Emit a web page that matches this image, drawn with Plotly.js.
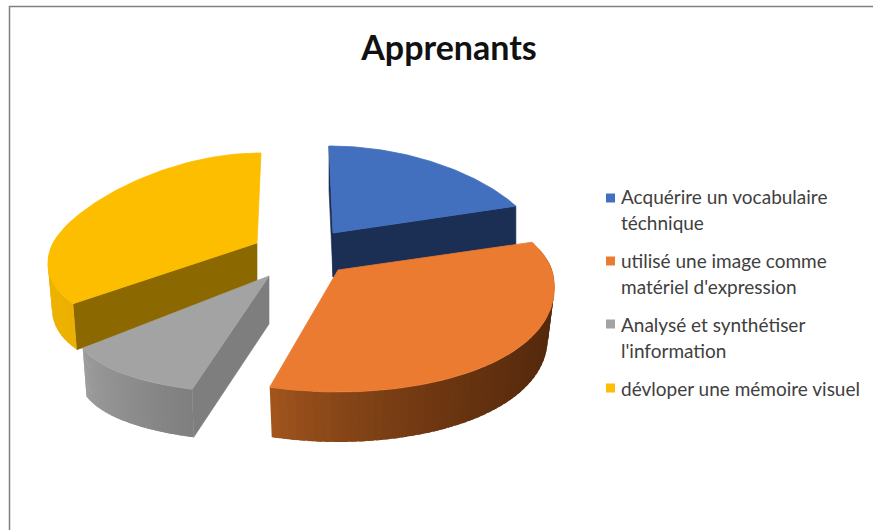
<!DOCTYPE html>
<html><head><meta charset="utf-8">
<script src="https://cdn.plot.ly/plotly-3.0.1.min.js"></script>
<style>html,body{margin:0;padding:0;background:#fff}#c{width:873px;height:530px}</style>
</head><body><div id="c"></div>
<script>
// ---- data ----
const categories = ["Acquérire un vocabulaire technique","utilisé une image comme matériel d'expression","Analysé et synthétiser l'information","dévloper une mémoire visuel"];
const values = [20, 34.5, 10, 35.5];
const legendLines = [["Acquérire un vocabulaire","téchnique"],["utilisé une image comme","matériel d'expression"],["Analysé et synthétiser","l'information"],["dévloper une mémoire visuel"]];
const chartTitle = "Apprenants";

// ---- styles: the exploded 3-D view of each slice ----
const view = [
 {ax:333,ay:233,rx:203,up:87,down:87,k:.15,lean:-4,h:44,bs:1,faces:[0,1],top:"#4270BE",inner:"#1B2E54",oL:"#1B2E54",oR:"#1B2E54"},
 {ax:338,ay:270,rx:214,up:90,down:122,k:.15,lean:0,h:50,bs:.97,faces:[],top:"#EB7B30",inner:"#A5571F",oL:"#A8591F",oR:"#55290C"},
 {ax:269,ay:276,rx:166,up:90,down:118,k:.686,lean:0,h:48,bs:.98,faces:[0],top:"#A3A3A3",inner:"#7E7E7E",oL:"#9E9E9E",oR:"#7F7F7F"},
 {ax:257,ay:243,rx:204,up:90,down:99,k:.23,lean:4,h:46,bs:.98,faces:[0],top:"#FDBE00",inner:"#8C6900",oL:"#EEB200",oR:"#E6AC00"}
];
const drawOrder = [3,0,2,1];
const legendY = [[196,222],[260,286],[324,350],[388]];
const legendBoxY = [198,261,324,388];

const FONT = "Lato, Carlito, sans-serif";
const total = values.reduce((a,b)=>a+b,0);
const D2R = Math.PI/180;
function hex(c){return [1,3,5].map(i=>parseInt(c.substr(i,2),16));}
function mix(a,b,t){const A=hex(a),B=hex(b);return "rgb("+A.map((v,i)=>Math.round(v+(B[i]-v)*t)).join(",")+")";}
function rim(v,deg,base){
  const t=deg*D2R,s=Math.sin(t),c=Math.cos(t),sc=base?v.bs:1;
  return [v.ax+sc*(v.rx*s*(1-v.k*c)+v.lean*Math.max(c,0)),
          v.ay+(base?v.h:0)-(c>0?v.up:v.down)*c];
}
function poly(xs,ys,color,name,width){
  return {type:"scatter",mode:"lines",x:xs.concat(xs[0]),y:ys.concat(ys[0]),fill:"toself",fillcolor:color,
    line:{color:color,width:width},hoverinfo:"skip",showlegend:false,name:name};
}
const spans=[];let acc=0;values.forEach(v=>{const a=acc;acc+=v/total*360;spans.push([a,acc]);});
const traces=[];
drawOrder.forEach(i=>{
  const v=view[i],a=spans[i][0],b=spans[i][1],name=categories[i];
  // cut faces
  v.faces.forEach(f=>{
    const d=f===0&&i!==0?a:(f===0?a:b);
    const p=rim(v,d,false),q=rim(v,d,true);
    traces.push(poly([v.ax,p[0],q[0],v.ax],[v.ay,p[1],q[1],v.ay+v.h],v.inner,name,.6));
  });
  // outer wall strips, shaded by screen x; the far side of the rim is hidden
  const n=60,step=(b-a)/n;
  let lo=Infinity,hi=-Infinity;
  for(let j=0;j<=n;j++){const x=rim(v,a+step*j,false)[0];lo=Math.min(lo,x);hi=Math.max(hi,x);}
  for(let j=0;j<n;j++){
    const d0=a+step*j,d1=Math.min(b,d0+step*1.7);
    if(Math.cos(d0*D2R)>.25) continue;
    const p0=rim(v,d0,false),p1=rim(v,d1,false),q1=rim(v,d1,true),q0=rim(v,d0,true);
    const t=Math.pow(Math.max(0,(p0[0]-lo)/(hi-lo)),.7);
    traces.push(poly([p0[0],p1[0],q1[0],q0[0]],[p0[1],p1[1],q1[1],q0[1]],mix(v.oL,v.oR,t),name,0));
  }
  // top face
  const xs=[v.ax],ys=[v.ay],m=90;
  for(let j=0;j<=m;j++){const p=rim(v,a+(b-a)*j/m,false);xs.push(p[0]);ys.push(p[1]);}
  traces.push(poly(xs,ys,v.top,name,.8));
});
// legend swatches
traces.push({type:"scatter",mode:"markers",x:[610.5,610.5,610.5,610.5],y:legendBoxY,
  marker:{symbol:"square",size:9,color:view.map(v=>v.top),line:{width:0}},hoverinfo:"skip",showlegend:false});
const annotations=[];
legendLines.forEach((ls,i)=>ls.forEach((t,j)=>annotations.push({text:t,x:619,y:legendY[i][j],xref:"x",yref:"y",xanchor:"left",yanchor:"middle",showarrow:false,
  font:{family:FONT,size:19,color:"#404040"}})));
const layout={
  width:873,height:530,margin:{l:0,r:0,t:0,b:0},paper_bgcolor:"#fff",plot_bgcolor:"#fff",showlegend:false,
  title:{text:chartTitle,x:449/873,xanchor:"center",y:1-48/530,yanchor:"middle",font:{family:FONT,size:34,color:"#111",weight:700}},
  xaxis:{range:[0,873],visible:false,fixedrange:true},
  yaxis:{range:[530,0],visible:false,fixedrange:true},
  annotations:annotations,
  shapes:[{type:"path",path:"M 9.5 530 L 9.5 6.5 L 873 6.5",line:{color:"#808080",width:1.5},layer:"below"}]
};
Plotly.newPlot("c",traces,layout,{displayModeBar:false,staticPlot:true});
</script></body></html>
